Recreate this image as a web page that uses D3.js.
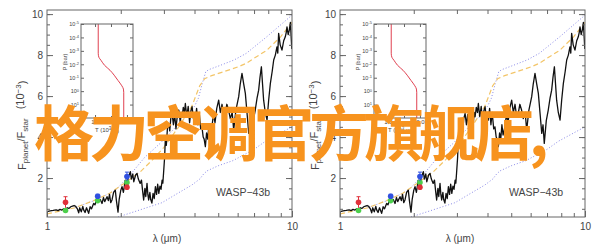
<!DOCTYPE html>
<html>
<head>
<meta charset="utf-8">
<script src="https://cdn.jsdelivr.net/npm/d3@7"></script>
<style>
body { margin: 0; background: #fff; }
svg text { font-family: "Liberation Sans", Arial, sans-serif; fill: #444; }
</style>
</head>
<body>
<svg id="chart" width="610" height="249"></svg>
<script>
// model spectrum (black), wavelength in micron, flux ratio in 1e-3
const specWave = [1.00,1.03,1.06,1.09,1.11,1.13,1.15,1.17,1.19,1.21,1.23,1.25,1.27,1.29,1.31,1.33,1.347,1.36,1.38,1.40,1.411,1.43,1.45,1.479,1.50,1.52,1.55,1.57,1.60,1.62,1.65,1.677,1.70,1.72,1.758,1.78,1.80,1.82,1.842,1.87,1.90,1.92,1.949,1.97,2.00,2.024,2.05,2.088,2.12,2.15,2.188,2.21,2.24,2.26,2.30,2.33,2.36,2.40,2.43,2.46,2.48,2.51,2.53,2.56,2.58,2.60,2.63,2.65,2.68,2.71,2.74,2.77,2.80,2.83,2.86,2.89,2.92,2.95,2.97,2.99,3.02,3.04,3.07,3.10,3.14,3.17,3.20,3.24,3.28,3.32,3.36,3.40,3.45,3.50,3.53,3.56,3.60,3.64,3.67,3.72,3.77,3.82,3.87,3.91,3.96,4.03,4.08,4.13,4.18,4.24,4.29,4.34,4.38,4.43,4.48,4.53,4.58,4.63,4.71,4.78,4.85,4.93,5.02,5.10,5.18,5.26,5.34,5.42,5.51,5.60,5.70,5.78,5.90,6.06,6.15,6.25,6.35,6.45,6.55,6.66,6.74,6.82,6.95,7.08,7.20,7.31,7.40,7.50,7.58,7.66,7.78,7.91,8.03,8.16,8.30,8.42,8.55,8.68,8.75,8.82,8.95,9.10,9.25,9.39,9.47,9.54,9.65,9.75,9.85,9.98]
const specFlux = [0.36,0.40,0.42,0.45,0.41,0.47,0.44,0.50,0.48,0.55,0.52,0.60,0.63,0.66,0.62,0.50,0.30,0.55,0.35,0.62,0.45,0.32,0.55,0.28,0.60,0.50,0.76,0.70,1.01,0.85,0.95,0.76,1.05,0.85,1.09,0.90,1.20,0.80,0.93,1.30,1.41,0.90,0.34,0.95,1.40,1.58,1.30,1.90,1.75,2.05,2.31,1.95,2.20,1.82,2.15,2.23,1.95,1.74,1.90,1.30,0.93,1.50,1.10,1.74,1.20,0.93,1.30,0.95,0.78,1.25,1.00,1.58,1.20,1.70,1.25,1.60,1.45,1.90,1.75,2.23,3.00,3.85,3.60,4.40,4.67,4.30,4.90,5.16,4.60,5.10,4.40,5.00,5.32,4.70,5.20,4.99,5.45,5.20,5.64,5.00,5.50,4.70,5.30,5.48,4.90,4.83,5.40,4.60,5.20,4.40,4.50,4.00,3.90,3.53,4.20,3.90,4.60,4.10,4.50,5.10,4.70,5.40,5.80,5.20,5.60,5.00,5.16,5.60,5.32,4.90,5.20,4.34,5.30,5.97,6.60,7.11,6.60,6.13,5.20,4.18,4.60,3.69,4.80,5.32,5.90,6.29,6.90,7.43,6.60,5.80,5.20,4.83,5.80,6.62,7.20,7.76,8.00,8.40,8.10,9.06,8.50,8.24,8.70,8.89,9.10,9.38,9.00,9.22,9.60,8.30]

// hotter model (upper blue dotted)
const hotWave = [1.30,1.60,1.90,2.20,2.50,2.90,3.30,3.70,4.00,4.15,4.30,4.45,4.60,5.10,5.80,6.50,7.90,10.0]
const hotFlux = [0.55,0.95,1.40,2.20,3.00,3.70,4.40,5.00,5.50,5.90,6.60,7.20,7.30,7.50,7.76,8.08,8.90,9.95]

// cooler model (lower blue dotted)
const coolWave = [1.95,2.40,2.95,3.30,3.90,4.20,4.36,4.50,5.00,5.74,7.00,7.80,10.0]
const coolFlux = [0.10,0.45,0.80,1.15,1.66,1.95,2.20,2.35,2.60,2.85,3.40,3.80,4.50]

// blackbody (orange dashed)
const bbWave = [1.00,1.30,1.55,1.80,2.10,2.40,2.70,3.00,3.45,3.90,4.20,4.40,4.70,5.30,6.10,6.50,7.90,9.00,10.0]
const bbFlux = [0.25,0.55,0.90,1.25,1.80,2.30,2.90,3.50,4.50,5.50,6.50,6.85,7.00,7.20,7.45,7.60,8.24,8.90,9.60]

// observed eclipse depths
const redWave = [1.19, 2.12]
const redFlux = [0.82, 1.55]
const redErr = [0.27, 0.10]
const greenWave = [1.19, 1.61, 2.12]
const greenFlux = [0.42, 0.90, 1.78]
const greenErr = [0.06, 0.05, 0.10]
const blueWave = [1.61, 2.12]
const blueFlux = [1.11, 2.07]
const blueErr = [0.10, 0.22]

// temperature-pressure profile of the inset
const tpTemp = [1.10,1.10,1.12,1.185,1.30,1.47,1.60,1.72,1.84,1.89,1.90,1.90]
const tpPress = [1e-5,1.5e-3,3e-3,5e-3,1.2e-2,2.8e-2,6.5e-2,0.16,0.4,0.7,1.2,100]

// ticks
const xTicks = [1, 10]
const xMinor = [2, 3, 4, 5, 6, 7, 8, 9]
const yTicks = [2, 4, 6, 8, 10]
const pTicks = [1e-5, 1e-4, 1e-3, 1e-2, 1e-1, 1e0, 1e1]
const tTicks = [1.0, 2.0]
const tMinor = [1.5]

const svg = d3.select("#chart")
const frame = { top: 10, bottom: 217, width: 245 }
const panelLefts = [47, 340]
const axisColor = "#666"

const zip = (a, b) => a.map((v, i) => [v, b[i]])

const supLabel = (sel, d) => {
    const e = Math.round(Math.log10(d))
    sel.text("10")
    sel.append("tspan").attr("dy", "-0.45em").attr("font-size", "4px").text(e)
}

const renderPanel = (left, idx) => {
    const right = left + frame.width
    const x = d3.scaleLog().domain([1, 10]).range([left, right])
    const y = d3.scaleLinear().domain([0.1, 10.2]).range([frame.bottom, frame.top])

    const g = svg.append("g")

    g.append("clipPath").attr("id", "clip" + idx)
        .append("rect")
        .attr("x", left).attr("y", frame.top)
        .attr("width", frame.width).attr("height", frame.bottom - frame.top)

    const plot = g.append("g").attr("clip-path", `url(#clip${idx})`)

    const line = d3.line().x(d => x(d[0])).y(d => y(d[1]))

    plot.append("path")
        .attr("d", line(zip(coolWave, coolFlux)))
        .attr("fill", "none").attr("stroke", "#8a8ae8").attr("stroke-width", 1)
        .attr("stroke-dasharray", "1,2")

    plot.append("path")
        .attr("d", line(zip(hotWave, hotFlux)))
        .attr("fill", "none").attr("stroke", "#8a8ae8").attr("stroke-width", 1)
        .attr("stroke-dasharray", "1,2")

    plot.append("path")
        .attr("d", line(zip(bbWave, bbFlux)))
        .attr("fill", "none").attr("stroke", "#f3c568").attr("stroke-width", 1.2)
        .attr("stroke-dasharray", "5,3")

    plot.append("path")
        .attr("d", line(zip(specWave, specFlux)))
        .attr("fill", "none").attr("stroke", "#111").attr("stroke-width", 1.3)
        .attr("stroke-linejoin", "round")

    const drawObs = (wave, flux, err, color) => {
        const pts = wave.map((w, i) => ({ w, f: flux[i], e: err[i] }))
        const og = plot.append("g")
        og.selectAll("line.bar").data(pts).enter().append("line")
            .attr("x1", d => x(d.w)).attr("x2", d => x(d.w))
            .attr("y1", d => y(d.f - d.e)).attr("y2", d => y(d.f + d.e))
            .attr("stroke", color).attr("stroke-width", 1)
        og.selectAll("line.cap").data(pts).enter().append("line")
            .attr("x1", d => x(d.w) - 2).attr("x2", d => x(d.w) + 2)
            .attr("y1", d => y(d.f + d.e)).attr("y2", d => y(d.f + d.e))
            .attr("stroke", color).attr("stroke-width", 1)
        og.selectAll("circle").data(pts).enter().append("circle")
            .attr("cx", d => x(d.w)).attr("cy", d => y(d.f))
            .attr("r", 2.8).attr("fill", color)
    }
    drawObs(greenWave, greenFlux, greenErr, "#4ccf4c")
    drawObs(redWave, redFlux, redErr, "#e0303a")
    drawObs(blueWave, blueFlux, blueErr, "#3050e0")

    // axes, IDL style ticks inward on all sides
    const axes = g.append("g")
    const styleAxis = sel => {
        sel.select(".domain").remove()
        sel.selectAll("line").attr("stroke", axisColor)
        sel.selectAll("text").attr("font-size", 10)
    }
    axes.append("g").attr("transform", `translate(${left},0)`)
        .call(d3.axisLeft(y).tickValues(yTicks).tickSize(-6).tickPadding(4))
        .call(styleAxis)
    axes.append("g").attr("transform", `translate(${left},0)`)
        .call(d3.axisLeft(y).tickValues(d3.range(0.5, 10.1, 0.5)).tickSize(-3).tickFormat(""))
        .call(styleAxis)
    axes.append("g").attr("transform", `translate(${right},0)`)
        .call(d3.axisRight(y).tickValues(yTicks).tickSize(-6).tickFormat(""))
        .call(styleAxis)
    axes.append("g").attr("transform", `translate(${right},0)`)
        .call(d3.axisRight(y).tickValues(d3.range(0.5, 10.1, 0.5)).tickSize(-3).tickFormat(""))
        .call(styleAxis)
    axes.append("g").attr("transform", `translate(0,${frame.bottom})`)
        .call(d3.axisBottom(x).tickValues(xTicks).tickSize(-6).tickPadding(6).tickFormat(d3.format("d")))
        .call(styleAxis)
    axes.append("g").attr("transform", `translate(0,${frame.bottom})`)
        .call(d3.axisBottom(x).tickValues(xMinor).tickSize(-4).tickFormat(""))
        .call(styleAxis)
    axes.append("g").attr("transform", `translate(0,${frame.top})`)
        .call(d3.axisTop(x).tickValues(xMinor).tickSize(-4).tickFormat(""))
        .call(styleAxis)

    g.append("rect")
        .attr("x", left).attr("y", frame.top)
        .attr("width", frame.width).attr("height", frame.bottom - frame.top)
        .attr("fill", "none").attr("stroke", axisColor).attr("stroke-width", 1)

    // axis titles
    const yTitle = g.append("text")
        .attr("transform", `translate(${left - 21},170) rotate(-90)`)
        .attr("text-anchor", "start")
        .attr("font-size", 11)
    yTitle.append("tspan").text("F")
    yTitle.append("tspan").attr("dy", "0.3em").attr("font-size", "8px").text("planet")
    yTitle.append("tspan").attr("dy", "-0.3em").text("/F")
    yTitle.append("tspan").attr("dy", "0.3em").attr("font-size", "8px").text("star")
    yTitle.append("tspan").attr("dy", "-0.3em").attr("dx", 9).text("(10")
    yTitle.append("tspan").attr("dy", "-0.45em").attr("font-size", "8px").text("−3")
    yTitle.append("tspan").attr("dy", "0.45em").text(")")

    g.append("text")
        .attr("x", left + 120).attr("y", 242)
        .attr("text-anchor", "middle").attr("font-size", 10)
        .text("λ (μm)")

    g.append("text")
        .attr("x", left + 196).attr("y", 196)
        .attr("text-anchor", "middle").attr("font-size", 10.5)
        .text("WASP−43b")

    // inset with T-P profile
    const il = left + 34, iw = 52, it = 24, ib = 118
    const tx = d3.scaleLinear().domain([0.56, 2.19]).range([il, il + iw])
    const py = d3.scaleLog().domain([1e-5, 1e2]).range([it, ib])

    g.append("rect")
        .attr("x", il).attr("y", it).attr("width", iw).attr("height", ib - it)
        .attr("fill", "#fff")

    const ig = g.append("g")
    const styleInset = sel => {
        sel.select(".domain").remove()
        sel.selectAll("line").attr("stroke", axisColor)
        sel.selectAll("text").attr("font-size", 6)
    }
    ig.append("g").attr("transform", `translate(${il},0)`)
        .call(d3.axisLeft(py).tickValues(pTicks).tickSize(-3).tickPadding(2).tickFormat(""))
        .call(styleInset)
        .selectAll(".tick").append("text")
        .attr("x", -2).attr("dy", "0.32em").attr("text-anchor", "end")
        .attr("font-size", "5.5px")
        .each(function (d) { supLabel(d3.select(this), d) })
    ig.append("g").attr("transform", `translate(${il + iw},0)`)
        .call(d3.axisRight(py).tickValues(pTicks).tickSize(-3).tickFormat(""))
        .call(styleInset)
    ig.append("g").attr("transform", `translate(0,${ib})`)
        .call(d3.axisBottom(tx).tickValues(tTicks).tickSize(-3).tickPadding(2).tickFormat(d3.format(".1f")))
        .call(styleInset)
    ig.append("g").attr("transform", `translate(0,${ib})`)
        .call(d3.axisBottom(tx).tickValues(tMinor).tickSize(-2).tickFormat(""))
        .call(styleInset)
    ig.append("g").attr("transform", `translate(0,${it})`)
        .call(d3.axisTop(tx).tickValues(tTicks.concat(tMinor)).tickSize(-3).tickFormat(""))
        .call(styleInset)

    ig.append("path")
        .attr("d", d3.line().x(d => tx(d[0])).y(d => py(d[1])).curve(d3.curveMonotoneY)(zip(tpTemp, tpPress)))
        .attr("fill", "none").attr("stroke", "#e04050").attr("stroke-width", 1)

    ig.append("rect")
        .attr("x", il).attr("y", it).attr("width", iw).attr("height", ib - it)
        .attr("fill", "none").attr("stroke", axisColor).attr("stroke-width", 1)

    ig.append("text")
        .attr("transform", `translate(${il - 14},${(it + ib) / 2 - 9}) rotate(-90)`)
        .attr("text-anchor", "middle").attr("font-size", 5.5)
        .text("P (bar)")

    const tTitle = ig.append("text")
        .attr("x", il + 26).attr("y", ib + 14)
        .attr("text-anchor", "middle").attr("font-size", 6)
    tTitle.append("tspan").text("T (10")
    tTitle.append("tspan").attr("dy", "-0.4em").attr("font-size", "4.5px").text("3")
    tTitle.append("tspan").attr("dy", "0.4em").text(" K)")
}

panelLefts.forEach(renderPanel)

// overlaid banner text
svg.append("text")
    .attr("x", 34).attr("y", 156)
    .style("font-family", "'Noto Sans CJK SC', sans-serif")
    .style("fill", "#f7931e")
    .attr("font-size", 60).attr("font-weight", "bold")
    .attr("letter-spacing", -5)
    .text("格力空调官方旗舰店,")
</script>
</body>
</html>
